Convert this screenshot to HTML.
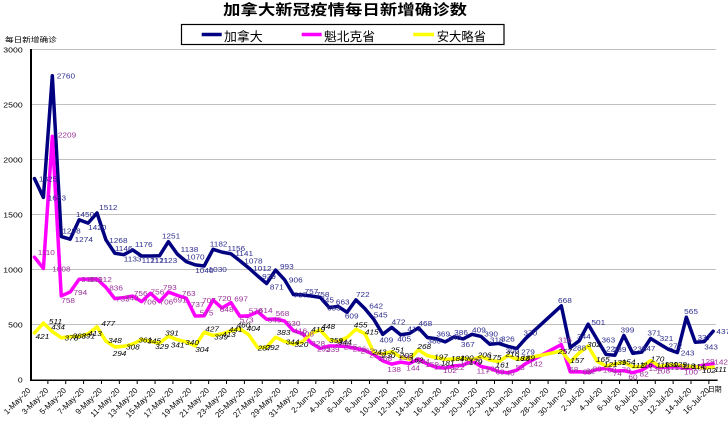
<!DOCTYPE html>
<html><head><meta charset="utf-8"><style>
html,body{margin:0;padding:0;background:#fff}
svg{display:block}
text{font-family:"Liberation Sans","Noto Sans CJK SC",sans-serif}
.lb text{font-size:7.5px}
</style></head><body>
<svg xmlns="http://www.w3.org/2000/svg" width="728" height="421" viewBox="0 0 728 421">
<rect width="728" height="421" fill="#fff"/>
<text x="345" y="14.8" text-anchor="middle" font-size="14.5" font-weight="bold" textLength="244" lengthAdjust="spacingAndGlyphs">加拿大新冠疫情每日新增确诊数</text>
<rect x="181.5" y="24.5" width="322.5" height="20" fill="#fff" stroke="#000" stroke-width="1.2"/>
<line x1="201.7" y1="34.5" x2="221.7" y2="34.5" stroke="#000080" stroke-width="3.5"/>
<text x="224" y="40.8" font-size="12.5" textLength="38.7" lengthAdjust="spacingAndGlyphs">加拿大</text>
<line x1="301.7" y1="34.5" x2="321.7" y2="34.5" stroke="#ff00ff" stroke-width="3.5"/>
<text x="324" y="40.8" font-size="12.5" textLength="51" lengthAdjust="spacingAndGlyphs">魁北克省</text>
<line x1="413.3" y1="34.5" x2="434" y2="34.5" stroke="#ffff00" stroke-width="3.5"/>
<text x="436.7" y="40.8" font-size="12.5" textLength="49.3" lengthAdjust="spacingAndGlyphs">安大略省</text>
<text x="5" y="41.8" font-size="7" textLength="51.7" lengthAdjust="spacingAndGlyphs">每日新增确诊</text>
<g stroke="#c0c0c0" stroke-width="1">
<line x1="32" y1="49.5" x2="716" y2="49.5"/>
<line x1="32" y1="104.5" x2="716" y2="104.5"/>
<line x1="32" y1="159.5" x2="716" y2="159.5"/>
<line x1="32" y1="214.5" x2="716" y2="214.5"/>
<line x1="32" y1="269.5" x2="716" y2="269.5"/>
<line x1="32" y1="324.5" x2="716" y2="324.5"/>
</g>
<g font-size="7.5" text-anchor="end" fill="#000">
<text x="22.7" y="52.3" textLength="19.4" lengthAdjust="spacingAndGlyphs">3000</text>
<text x="22.7" y="107.3" textLength="19.4" lengthAdjust="spacingAndGlyphs">2500</text>
<text x="22.7" y="162.3" textLength="19.4" lengthAdjust="spacingAndGlyphs">2000</text>
<text x="22.7" y="217.3" textLength="19.4" lengthAdjust="spacingAndGlyphs">1500</text>
<text x="22.7" y="272.3" textLength="19.4" lengthAdjust="spacingAndGlyphs">1000</text>
<text x="22.7" y="327.3" textLength="14.5" lengthAdjust="spacingAndGlyphs">500</text>
<text x="22.7" y="382.3" textLength="4.8" lengthAdjust="spacingAndGlyphs">0</text>
</g>
<line x1="31" y1="49" x2="31" y2="381" stroke="#000" stroke-width="2"/>
<line x1="30" y1="380.2" x2="717.6" y2="380.2" stroke="#000" stroke-width="1.5"/>
<path stroke="#000" stroke-width="1" fill="none" d="M47.87,380v4M65.73,380v4M83.6,380v4M101.46,380v4M119.33,380v4M137.19,380v4M155.06,380v4M172.92,380v4M190.79,380v4M208.65,380v4M226.52,380v4M244.38,380v4M262.25,380v4M280.11,380v4M297.98,380v4M315.84,380v4M333.71,380v4M351.57,380v4M369.44,380v4M387.3,380v4M405.17,380v4M423.03,380v4M440.9,380v4M458.76,380v4M476.63,380v4M494.49,380v4M512.36,380v4M530.22,380v4M548.09,380v4M565.95,380v4M583.82,380v4M601.68,380v4M619.55,380v4M637.41,380v4M655.28,380v4M673.14,380v4M691.01,380v4M708.87,380v4"/>
<g font-size="8" text-anchor="end" fill="#000">
<text transform="translate(31,391) rotate(-45)">1-May-20</text>
<text transform="translate(48.9,391) rotate(-45)">3-May-20</text>
<text transform="translate(66.7,391) rotate(-45)">5-May-20</text>
<text transform="translate(84.6,391) rotate(-45)">7-May-20</text>
<text transform="translate(102.5,391) rotate(-45)">9-May-20</text>
<text transform="translate(120.3,391) rotate(-45)">11-May-20</text>
<text transform="translate(138.2,391) rotate(-45)">13-May-20</text>
<text transform="translate(156.1,391) rotate(-45)">15-May-20</text>
<text transform="translate(173.9,391) rotate(-45)">17-May-20</text>
<text transform="translate(191.8,391) rotate(-45)">19-May-20</text>
<text transform="translate(209.7,391) rotate(-45)">21-May-20</text>
<text transform="translate(227.5,391) rotate(-45)">23-May-20</text>
<text transform="translate(245.4,391) rotate(-45)">25-May-20</text>
<text transform="translate(263.3,391) rotate(-45)">27-May-20</text>
<text transform="translate(281.1,391) rotate(-45)">29-May-20</text>
<text transform="translate(299,391) rotate(-45)">31-May-20</text>
<text transform="translate(316.8,391) rotate(-45)">2-Jun-20</text>
<text transform="translate(334.7,391) rotate(-45)">4-Jun-20</text>
<text transform="translate(352.6,391) rotate(-45)">6-Jun-20</text>
<text transform="translate(370.4,391) rotate(-45)">8-Jun-20</text>
<text transform="translate(388.3,391) rotate(-45)">10-Jun-20</text>
<text transform="translate(406.2,391) rotate(-45)">12-Jun-20</text>
<text transform="translate(424,391) rotate(-45)">14-Jun-20</text>
<text transform="translate(441.9,391) rotate(-45)">16-Jun-20</text>
<text transform="translate(459.8,391) rotate(-45)">18-Jun-20</text>
<text transform="translate(477.6,391) rotate(-45)">20-Jun-20</text>
<text transform="translate(495.5,391) rotate(-45)">22-Jun-20</text>
<text transform="translate(513.4,391) rotate(-45)">24-Jun-20</text>
<text transform="translate(531.2,391) rotate(-45)">26-Jun-20</text>
<text transform="translate(549.1,391) rotate(-45)">28-Jun-20</text>
<text transform="translate(567,391) rotate(-45)">30-Jun-20</text>
<text transform="translate(584.8,391) rotate(-45)">2-Jul-20</text>
<text transform="translate(602.7,391) rotate(-45)">4-Jul-20</text>
<text transform="translate(620.6,391) rotate(-45)">6-Jul-20</text>
<text transform="translate(638.4,391) rotate(-45)">8-Jul-20</text>
<text transform="translate(656.3,391) rotate(-45)">10-Jul-20</text>
<text transform="translate(674.1,391) rotate(-45)">12-Jul-20</text>
<text transform="translate(692,391) rotate(-45)">14-Jul-20</text>
<text transform="translate(709.9,391) rotate(-45)">16-Jul-20</text>
</g>
<text x="707.7" y="391.6" font-size="7" textLength="14" lengthAdjust="spacingAndGlyphs">日期</text>

<g transform="translate(34.465,379.3) scale(8.93,-0.11)" fill="none" stroke-linejoin="round" stroke-linecap="round">
<polyline vector-effect="non-scaling-stroke" stroke="#000080" stroke-width="3.5" points="0,1825 1,1653 2,2760 3,1298 4,1274 5,1450 6,1420 7,1512 8,1268 9,1146 10,1133 11,1176 12,1121 13,1121 14,1123 15,1251 16,1138 17,1070 18,1040 19,1030 20,1182 21,1156 22,1141 23,1078 24,1012 25,939 26,871 27,993 28,906 29,770 30,767 31,757 32,745 33,653 34,663 35,609 36,722 37,642 38,545 39,409 40,472 41,405 42,417 43,468 44,380 45,369 46,340 47,386 48,367 49,409 50,390 51,318 52,326 53,300 54,279 55,370 59,668 60,288 61,350 62,501 63,363 64,226 65,219 66,399 67,236 68,247 69,371 70,321 71,272 72,243 73,565 74,337 75,343 76,437"/>
<polyline vector-effect="non-scaling-stroke" stroke="#ff00ff" stroke-width="3.5" points="0,1110 1,1008 2,2209 3,758 4,794 5,910 6,911 7,912 8,836 9,733 10,743 11,756 12,706 13,782 14,706 15,793 16,763 17,737 18,575 19,578 20,720 21,648 22,697 23,573 24,578 25,614 26,545 27,548 28,530 29,442 30,416 31,330 32,280 33,303 34,303 35,297 36,280 37,262 38,225 39,168 40,138 41,156 42,144 43,184 44,139 45,109 46,102 47,122 48,128 49,170 50,117 51,100 52,69 53,60 54,83 55,142 59,316 60,68 61,69 62,62 63,89 64,100 65,74 66,79 67,60 68,82 69,131 70,108 71,111 72,114 73,100 74,109 75,129 76,142"/>
<polyline vector-effect="non-scaling-stroke" stroke="#ffff00" stroke-width="3.5" points="0,421 1,511 2,434 3,378 4,388 5,391 6,413 7,477 8,348 9,294 10,300 11,320 12,361 13,345 14,329 15,391 16,360 17,340 18,304 19,427 20,399 21,413 22,441 23,460 24,404 25,287 26,292 27,383 28,344 29,320 30,340 31,419 32,448 33,359 34,344 35,380 36,455 37,415 38,243 39,230 40,251 41,203 42,182 43,268 44,215 45,197 46,181 47,184 48,190 49,179 50,206 51,175 52,161 53,216 54,183 55,189 59,257 60,157 61,240 62,302 63,165 64,121 65,139 66,154 67,113 68,116 69,170 70,118 71,130 72,129 73,118 74,114 75,102 76,111"/>
</g>

<g class="lb" transform="translate(34.465,379.3) scale(8.93,-0.11)" fill="#2e2e8f">
<text transform="translate(0,1825)scale(.1232,-9.091)" x="4" y="3">1825</text>
<text transform="translate(1,1653)scale(.1232,-9.091)" x="4" y="3">1653</text>
<text transform="translate(2,2760)scale(.1232,-9.091)" x="4" y="3">2760</text>
<text transform="translate(3,1298)scale(.1232,-9.091)" x="1" y="-3">1298</text>
<text transform="translate(4,1274)scale(.1232,-9.091)" x="4" y="3">1274</text>
<text transform="translate(5,1450)scale(.1232,-9.091)" x="-3" y="-3">1450</text>
<text transform="translate(6,1420)scale(.1232,-9.091)" x="0" y="7">1420</text>
<text transform="translate(7,1512)scale(.1232,-9.091)" x="2" y="-3">1512</text>
<text transform="translate(8,1268)scale(.1232,-9.091)" x="3" y="3">1268</text>
<text transform="translate(9,1146)scale(.1232,-9.091)" x="0" y="-2">1146</text>
<text transform="translate(10,1133)scale(.1232,-9.091)" x="0" y="7">1133</text>
<text transform="translate(11,1176)scale(.1232,-9.091)" x="2" y="-3">1176</text>
<text transform="translate(12,1121)scale(.1232,-9.091)" x="0" y="7">1121</text>
<text transform="translate(13,1121)scale(.1232,-9.091)" x="0" y="7">1121</text>
<text transform="translate(14,1123)scale(.1232,-9.091)" x="0" y="7">1123</text>
<text transform="translate(15,1251)scale(.1232,-9.091)" x="-6" y="-3">1251</text>
<text transform="translate(16,1138)scale(.1232,-9.091)" x="3" y="-2">1138</text>
<text transform="translate(17,1070)scale(.1232,-9.091)" x="0" y="-2">1070</text>
<text transform="translate(18,1040)scale(.1232,-9.091)" x="0" y="8">1040</text>
<text transform="translate(19,1030)scale(.1232,-9.091)" x="4" y="6">1030</text>
<text transform="translate(20,1182)scale(.1232,-9.091)" x="-3" y="-3">1182</text>
<text transform="translate(21,1156)scale(.1232,-9.091)" x="5" y="-1">1156</text>
<text transform="translate(22,1141)scale(.1232,-9.091)" x="4" y="2">1141</text>
<text transform="translate(23,1078)scale(.1232,-9.091)" x="4" y="3">1078</text>
<text transform="translate(24,1012)scale(.1232,-9.091)" x="4" y="3">1012</text>
<text transform="translate(25,939)scale(.1232,-9.091)" x="4" y="3">939</text>
<text transform="translate(26,871)scale(.1232,-9.091)" x="3" y="6">871</text>
<text transform="translate(27,993)scale(.1232,-9.091)" x="4" y="-1">993</text>
<text transform="translate(28,906)scale(.1232,-9.091)" x="4" y="3">906</text>
<text transform="translate(29,770)scale(.1232,-9.091)" x="0" y="3">767</text>
<text transform="translate(30,767)scale(.1232,-9.091)" x="2" y="-1">757</text>
<text transform="translate(31,757)scale(.1232,-9.091)" x="4" y="1">758</text>
<text transform="translate(32,745)scale(.1232,-9.091)" x="0" y="5">745</text>
<text transform="translate(33,653)scale(.1232,-9.091)" x="-2" y="3">653</text>
<text transform="translate(34,663)scale(.1232,-9.091)" x="-2" y="-2">663</text>
<text transform="translate(35,609)scale(.1232,-9.091)" x="-2" y="6">609</text>
<text transform="translate(36,722)scale(.1232,-9.091)" x="0" y="-3">722</text>
<text transform="translate(37,642)scale(.1232,-9.091)" x="4" y="0">642</text>
<text transform="translate(38,545)scale(.1232,-9.091)" x="0" y="-2">545</text>
<text transform="translate(39,409)scale(.1232,-9.091)" x="-3" y="8">409</text>
<text transform="translate(40,472)scale(.1232,-9.091)" x="0" y="-3">472</text>
<text transform="translate(41,405)scale(.1232,-9.091)" x="-3" y="7">405</text>
<text transform="translate(42,417)scale(.1232,-9.091)" x="-2" y="-2">417</text>
<text transform="translate(43,468)scale(.1232,-9.091)" x="0" y="-2">468</text>
<text transform="translate(44,380)scale(.1232,-9.091)" x="0" y="6">380</text>
<text transform="translate(45,369)scale(.1232,-9.091)" x="0" y="-2">369</text>
<text transform="translate(46,340)scale(.1232,-9.091)" x="2" y="-2">340</text>
<text transform="translate(47,386)scale(.1232,-9.091)" x="0" y="-2">386</text>
<text transform="translate(48,367)scale(.1232,-9.091)" x="-2" y="8">367</text>
<text transform="translate(49,409)scale(.1232,-9.091)" x="0" y="-2">409</text>
<text transform="translate(50,390)scale(.1232,-9.091)" x="3" y="0">390</text>
<text transform="translate(51,318)scale(.1232,-9.091)" x="0" y="-2">318</text>
<text transform="translate(52,326)scale(.1232,-9.091)" x="2" y="-2">326</text>
<text transform="translate(53,300)scale(.1232,-9.091)" x="-2" y="7">300</text>
<text transform="translate(54,279)scale(.1232,-9.091)" x="4" y="6">279</text>
<text transform="translate(55,370)scale(.1232,-9.091)" x="-2" y="-3">370</text>
<text transform="translate(59,668)scale(.1232,-9.091)" x="-3" y="-3">668</text>
<text transform="translate(60,288)scale(.1232,-9.091)" x="2" y="3">288</text>
<text transform="translate(61,350)scale(.1232,-9.091)" x="-2" y="-2">344</text>
<text transform="translate(62,501)scale(.1232,-9.091)" x="3" y="1">501</text>
<text transform="translate(63,363)scale(.1232,-9.091)" x="4" y="3">363</text>
<text transform="translate(64,226)scale(.1232,-9.091)" x="0" y="-3">226</text>
<text transform="translate(65,219)scale(.1232,-9.091)" x="-2" y="-3">239</text>
<text transform="translate(66,399)scale(.1232,-9.091)" x="-3" y="-3">399</text>
<text transform="translate(67,236)scale(.1232,-9.091)" x="0" y="-2">236</text>
<text transform="translate(68,247)scale(.1232,-9.091)" x="0" y="-1">247</text>
<text transform="translate(69,371)scale(.1232,-9.091)" x="-3" y="-3">371</text>
<text transform="translate(70,321)scale(.1232,-9.091)" x="0" y="-3">321</text>
<text transform="translate(71,272)scale(.1232,-9.091)" x="0" y="-1">272</text>
<text transform="translate(72,243)scale(.1232,-9.091)" x="3" y="3">243</text>
<text transform="translate(73,565)scale(.1232,-9.091)" x="-2" y="-3">565</text>
<text transform="translate(74,337)scale(.1232,-9.091)" x="2" y="-2">337</text>
<text transform="translate(75,343)scale(.1232,-9.091)" x="0" y="8">343</text>
<text transform="translate(76,437)scale(.1232,-9.091)" x="3" y="3">437</text>
</g>

<g class="lb" transform="translate(34.465,379.3) scale(8.93,-0.11)" fill="#993399">
<text transform="translate(0,1110)scale(.1232,-9.091)" x="3" y="-2">1110</text>
<text transform="translate(1,1008)scale(.1232,-9.091)" x="8" y="3">1008</text>
<text transform="translate(2,2209)scale(.1232,-9.091)" x="5" y="1">2209</text>
<text transform="translate(3,758)scale(.1232,-9.091)" x="0" y="7">758</text>
<text transform="translate(4,794)scale(.1232,-9.091)" x="3" y="3">794</text>
<text transform="translate(5,910)scale(.1232,-9.091)" x="2" y="3">910</text>
<text transform="translate(6,911)scale(.1232,-9.091)" x="1" y="3">911</text>
<text transform="translate(7,912)scale(.1232,-9.091)" x="1" y="3">912</text>
<text transform="translate(8,836)scale(.1232,-9.091)" x="3" y="3">836</text>
<text transform="translate(9,733)scale(.1232,-9.091)" x="1" y="3">733</text>
<text transform="translate(10,743)scale(.1232,-9.091)" x="1" y="3">743</text>
<text transform="translate(11,756)scale(.1232,-9.091)" x="1" y="0">756</text>
<text transform="translate(12,706)scale(.1232,-9.091)" x="1" y="3">706</text>
<text transform="translate(13,782)scale(.1232,-9.091)" x="0" y="1">756</text>
<text transform="translate(14,706)scale(.1232,-9.091)" x="0" y="3">706</text>
<text transform="translate(15,793)scale(.1232,-9.091)" x="-5" y="-2">793</text>
<text transform="translate(16,763)scale(.1232,-9.091)" x="-4" y="7">691</text>
<text transform="translate(17,737)scale(.1232,-9.091)" x="-4" y="-2">763</text>
<text transform="translate(18,575)scale(.1232,-9.091)" x="-4" y="-9">737</text>
<text transform="translate(19,578)scale(.1232,-9.091)" x="-4" y="0">575</text>
<text transform="translate(20,720)scale(.1232,-9.091)" x="-10" y="3">707</text>
<text transform="translate(21,648)scale(.1232,-9.091)" x="-4" y="-7">720</text>
<text transform="translate(21,648)scale(.1232,-9.091)" x="-2" y="4">648</text>
<text transform="translate(22,697)scale(.1232,-9.091)" x="3" y="-1">697</text>
<text transform="translate(23,573)scale(.1232,-9.091)" x="0" y="6">573</text>
<text transform="translate(24,578)scale(.1232,-9.091)" x="0" y="-2">578</text>
<text transform="translate(25,614)scale(.1232,-9.091)" x="1" y="1">614</text>
<text transform="translate(26,545)scale(.1232,-9.091)" x="1" y="3">545</text>
<text transform="translate(27,548)scale(.1232,-9.091)" x="0" y="-3">568</text>
<text transform="translate(28,530)scale(.1232,-9.091)" x="2" y="5">530</text>
<text transform="translate(29,442)scale(.1232,-9.091)" x="0" y="3">416</text>
<text transform="translate(30,416)scale(.1232,-9.091)" x="-2" y="3">408</text>
<text transform="translate(31,330)scale(.1232,-9.091)" x="0" y="3">328</text>
<text transform="translate(32,280)scale(.1232,-9.091)" x="-3" y="3">295</text>
<text transform="translate(33,303)scale(.1232,-9.091)" x="-3" y="6">239</text>
<text transform="translate(34,303)scale(.1232,-9.091)" x="-3" y="0">265</text>
<text transform="translate(35,297)scale(.1232,-9.091)" x="-3" y="3">255</text>
<text transform="translate(36,280)scale(.1232,-9.091)" x="-3" y="3">226</text>
<text transform="translate(37,262)scale(.1232,-9.091)" x="-4" y="3">262</text>
<text transform="translate(38,225)scale(.1232,-9.091)" x="-4" y="3">225</text>
<text transform="translate(39,168)scale(.1232,-9.091)" x="-4" y="0">168</text>
<text transform="translate(40,138)scale(.1232,-9.091)" x="-4" y="8">138</text>
<text transform="translate(41,156)scale(.1232,-9.091)" x="-2" y="-2">156</text>
<text transform="translate(42,144)scale(.1232,-9.091)" x="-3" y="7">144</text>
<text transform="translate(43,184)scale(.1232,-9.091)" x="-2" y="5">184</text>
<text transform="translate(44,139)scale(.1232,-9.091)" x="-2" y="3">159</text>
<text transform="translate(45,109)scale(.1232,-9.091)" x="-2" y="2">129</text>
<text transform="translate(46,102)scale(.1232,-9.091)" x="-2" y="5">102</text>
<text transform="translate(47,122)scale(.1232,-9.091)" x="-3" y="4">122</text>
<text transform="translate(48,128)scale(.1232,-9.091)" x="-3" y="0">128</text>
<text transform="translate(49,170)scale(.1232,-9.091)" x="-3" y="3">170</text>
<text transform="translate(50,117)scale(.1232,-9.091)" x="-4" y="7">117</text>
<text transform="translate(51,100)scale(.1232,-9.091)" x="-4" y="3">100</text>
<text transform="translate(52,69)scale(.1232,-9.091)" x="-3" y="3">69</text>
<text transform="translate(53,60)scale(.1232,-9.091)" x="-2" y="3">40</text>
<text transform="translate(54,83)scale(.1232,-9.091)" x="-1" y="0">53</text>
<text transform="translate(55,142)scale(.1232,-9.091)" x="3" y="3">142</text>
<text transform="translate(59,316)scale(.1232,-9.091)" x="-3" y="-2">316</text>
<text transform="translate(60,68)scale(.1232,-9.091)" x="-1" y="0">68</text>
<text transform="translate(61,69)scale(.1232,-9.091)" x="3" y="3">69</text>
<text transform="translate(62,62)scale(.1232,-9.091)" x="-2" y="1">62</text>
<text transform="translate(63,89)scale(.1232,-9.091)" x="-4" y="2">89</text>
<text transform="translate(64,100)scale(.1232,-9.091)" x="-3" y="4">100</text>
<text transform="translate(65,74)scale(.1232,-9.091)" x="-2" y="5">74</text>
<text transform="translate(66,79)scale(.1232,-9.091)" x="-2" y="2">79</text>
<text transform="translate(67,60)scale(.1232,-9.091)" x="-4" y="7">60</text>
<text transform="translate(68,82)scale(.1232,-9.091)" x="-2" y="6">82</text>
<text transform="translate(69,131)scale(.1232,-9.091)" x="-2" y="6">131</text>
<text transform="translate(70,108)scale(.1232,-9.091)" x="-3" y="6">108</text>
<text transform="translate(71,111)scale(.1232,-9.091)" x="-2" y="3">111</text>
<text transform="translate(72,114)scale(.1232,-9.091)" x="-2" y="3">114</text>
<text transform="translate(73,100)scale(.1232,-9.091)" x="-2" y="6">100</text>
<text transform="translate(74,109)scale(.1232,-9.091)" x="-2" y="3">109</text>
<text transform="translate(75,129)scale(.1232,-9.091)" x="-3" y="-1">129</text>
<text transform="translate(76,142)scale(.1232,-9.091)" x="1" y="1">142</text>
</g>

<g class="lb" transform="translate(34.465,379.3) scale(8.93,-0.11)" fill="#000" font-style="italic">
<text transform="translate(0,421)scale(.1232,-9.091)" x="1" y="6">421</text>
<text transform="translate(1,511)scale(.1232,-9.091)" x="5" y="1">511</text>
<text transform="translate(2,434)scale(.1232,-9.091)" x="-1" y="-2">434</text>
<text transform="translate(3,378)scale(.1232,-9.091)" x="3" y="3">378</text>
<text transform="translate(4,388)scale(.1232,-9.091)" x="2" y="2">388</text>
<text transform="translate(5,391)scale(.1232,-9.091)" x="2" y="2">391</text>
<text transform="translate(6,413)scale(.1232,-9.091)" x="0" y="2">413</text>
<text transform="translate(7,477)scale(.1232,-9.091)" x="4" y="-1">477</text>
<text transform="translate(8,348)scale(.1232,-9.091)" x="2" y="2">348</text>
<text transform="translate(9,294)scale(.1232,-9.091)" x="-2" y="9">294</text>
<text transform="translate(10,300)scale(.1232,-9.091)" x="2" y="3">308</text>
<text transform="translate(12,361)scale(.1232,-9.091)" x="-3" y="3">361</text>
<text transform="translate(13,345)scale(.1232,-9.091)" x="-3" y="2">345</text>
<text transform="translate(14,329)scale(.1232,-9.091)" x="-4" y="6">329</text>
<text transform="translate(15,391)scale(.1232,-9.091)" x="-3" y="-1">391</text>
<text transform="translate(16,360)scale(.1232,-9.091)" x="-6" y="8">341</text>
<text transform="translate(17,340)scale(.1232,-9.091)" x="-1" y="3">340</text>
<text transform="translate(18,304)scale(.1232,-9.091)" x="0" y="6">304</text>
<text transform="translate(19,427)scale(.1232,-9.091)" x="1" y="-1">427</text>
<text transform="translate(20,399)scale(.1232,-9.091)" x="1" y="4">399</text>
<text transform="translate(21,413)scale(.1232,-9.091)" x="0" y="3">413</text>
<text transform="translate(22,441)scale(.1232,-9.091)" x="-2" y="1">441</text>
<text transform="translate(23,460)scale(.1232,-9.091)" x="-3" y="-1">460</text>
<text transform="translate(24,404)scale(.1232,-9.091)" x="-2" y="-4">404</text>
<text transform="translate(25,287)scale(.1232,-9.091)" x="0" y="3">287</text>
<text transform="translate(26,292)scale(.1232,-9.091)" x="-1" y="3">292</text>
<text transform="translate(27,383)scale(.1232,-9.091)" x="1" y="-2">383</text>
<text transform="translate(28,344)scale(.1232,-9.091)" x="1" y="3">344</text>
<text transform="translate(29,320)scale(.1232,-9.091)" x="1" y="3">320</text>
<text transform="translate(31,419)scale(.1232,-9.091)" x="0" y="-1">419</text>
<text transform="translate(32,448)scale(.1232,-9.091)" x="1" y="-1">448</text>
<text transform="translate(33,359)scale(.1232,-9.091)" x="0" y="3">359</text>
<text transform="translate(34,344)scale(.1232,-9.091)" x="0" y="3">344</text>
<text transform="translate(36,455)scale(.1232,-9.091)" x="-2" y="-2">455</text>
<text transform="translate(37,415)scale(.1232,-9.091)" x="0" y="1">415</text>
<text transform="translate(38,243)scale(.1232,-9.091)" x="-1" y="2">243</text>
<text transform="translate(39,230)scale(.1232,-9.091)" x="-1" y="4">230</text>
<text transform="translate(40,251)scale(.1232,-9.091)" x="-1" y="1">251</text>
<text transform="translate(41,203)scale(.1232,-9.091)" x="-1" y="1">203</text>
<text transform="translate(42,182)scale(.1232,-9.091)" x="0" y="3">162</text>
<text transform="translate(43,268)scale(.1232,-9.091)" x="-1" y="-1">268</text>
<text transform="translate(45,197)scale(.1232,-9.091)" x="-2" y="2">197</text>
<text transform="translate(46,181)scale(.1232,-9.091)" x="-4" y="6">181</text>
<text transform="translate(47,184)scale(.1232,-9.091)" x="-3" y="2">184</text>
<text transform="translate(48,190)scale(.1232,-9.091)" x="-3" y="2">190</text>
<text transform="translate(49,179)scale(.1232,-9.091)" x="-3" y="5">179</text>
<text transform="translate(50,206)scale(.1232,-9.091)" x="-3" y="1">206</text>
<text transform="translate(51,175)scale(.1232,-9.091)" x="-2" y="0">175</text>
<text transform="translate(52,161)scale(.1232,-9.091)" x="-3" y="6">161</text>
<text transform="translate(53,216)scale(.1232,-9.091)" x="-2" y="1">216</text>
<text transform="translate(54,183)scale(.1232,-9.091)" x="-1" y="2">183</text>
<text transform="translate(55,189)scale(.1232,-9.091)" x="-4" y="2">189</text>
<text transform="translate(59,257)scale(.1232,-9.091)" x="-3" y="3">257</text>
<text transform="translate(60,157)scale(.1232,-9.091)" x="0" y="1">157</text>
<text transform="translate(62,302)scale(.1232,-9.091)" x="-1" y="1">302</text>
<text transform="translate(63,165)scale(.1232,-9.091)" x="-1" y="1">165</text>
<text transform="translate(64,121)scale(.1232,-9.091)" x="-2" y="1">121</text>
<text transform="translate(65,139)scale(.1232,-9.091)" x="-2" y="1">139</text>
<text transform="translate(66,154)scale(.1232,-9.091)" x="-2" y="2">154</text>
<text transform="translate(67,113)scale(.1232,-9.091)" x="-1" y="1">113</text>
<text transform="translate(68,116)scale(.1232,-9.091)" x="-2" y="1">116</text>
<text transform="translate(69,170)scale(.1232,-9.091)" x="0" y="1">170</text>
<text transform="translate(70,118)scale(.1232,-9.091)" x="-3" y="1">118</text>
<text transform="translate(71,130)scale(.1232,-9.091)" x="-4" y="2">130</text>
<text transform="translate(72,129)scale(.1232,-9.091)" x="-4" y="2">129</text>
<text transform="translate(73,118)scale(.1232,-9.091)" x="-4" y="2">118</text>
<text transform="translate(74,114)scale(.1232,-9.091)" x="-3" y="2">114</text>
<text transform="translate(75,102)scale(.1232,-9.091)" x="-2" y="5">102</text>
<text transform="translate(76,111)scale(.1232,-9.091)" x="1" y="5">111</text>
</g>
</svg>
</body></html>
